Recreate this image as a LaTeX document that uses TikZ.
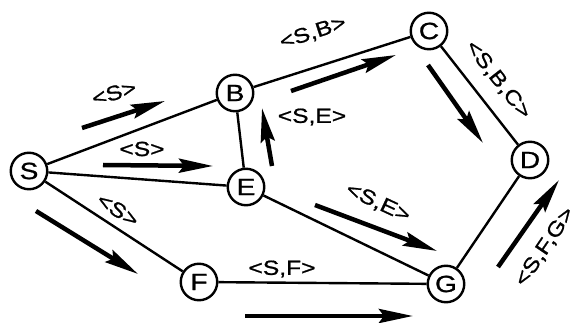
\documentclass[tikz,border=0pt]{standalone}
\usepackage{fontspec}
\setmainfont{Liberation Sans}
\newfontfamily\lfont[FakeBold=0.9]{Liberation Sans}
\usetikzlibrary{arrows.meta}
\newcommand{\widetxt}[1]{\scalebox{1.2}[1]{#1}}
\begin{document}
\begin{tikzpicture}[x=1pt,y=-1pt,
  vertex/.style={circle,draw,line width=2.4pt,minimum size=36.5pt,inner sep=0pt,font=\lfont\fontsize{23.5}{23.5}\selectfont},
  edge/.style={line width=2.4pt},
  flow/.style={line width=4.5pt,-{Stealth[length=34pt,width=14pt,inset=5pt]}},
  lbl/.style={inner sep=0pt,font=\lfont\fontsize{20.5}{20.5}\selectfont}]
\useasboundingbox (0,0) rectangle (571,323);
% vertices
\node[vertex] (S) at (29,171) {\widetxt{S}};
\node[vertex] (B) at (235,93) {\widetxt{B}};
\node[vertex] (E) at (246,187) {\widetxt{E}};
\node[vertex] (F) at (199,282) {\widetxt{F}};
\node[vertex] (C) at (429,31) {\widetxt{C}};
\node[vertex] (D) at (530,160) {\widetxt{D}};
\node[vertex] (G) at (446,284) {\widetxt{G}};
% edges
\draw[edge] (S) -- (B);
\draw[edge] (S) -- (E);
\draw[edge] (S) -- (F);
\draw[edge] (B) -- (E);
\draw[edge] (B) -- (C);
\draw[edge] (C) -- (D);
\draw[edge] (D) -- (G);
\draw[edge] (E) -- (G);
\draw[edge] (F) -- (G);
% flow arrow end points
\coordinate (a1s) at (82,128);   \coordinate (a1e) at (165,101);
\coordinate (a2s) at (103,165);  \coordinate (a2e) at (213,166);
\coordinate (a3s) at (36,211);   \coordinate (a3e) at (138,274);
\coordinate (a4s) at (272,166);  \coordinate (a4e) at (262,108);
\coordinate (a5s) at (291,91);   \coordinate (a5e) at (396,55);
\coordinate (a6s) at (428,65);   \coordinate (a6e) at (483,143);
\coordinate (a7s) at (315,205);  \coordinate (a7e) at (437,251);
\coordinate (a8s) at (498,267);  \coordinate (a8e) at (559,180);
\coordinate (a9s) at (245,316);  \coordinate (a9e) at (413,316);
\draw[flow] (a1s) -- (a1e);
\draw[flow] (a2s) -- (a2e);
\draw[flow] (a3s) -- (a3e);
\draw[flow] (a4s) -- (a4e);
\draw[flow] (a5s) -- (a5e);
\draw[flow] (a6s) -- (a6e);
\draw[flow] (a7s) -- (a7e);
\draw[flow] (a8s) -- (a8e);
\draw[flow] (a9s) -- (a9e);
% labels
\node[lbl,rotate=16] (l1) at (114,93) {\widetxt{<S>}};
\node[lbl] (l2) at (142,149) {\widetxt{<S>}};
\node[lbl,rotate=-33] (l3) at (118,210) {\widetxt{<S>}};
\node[lbl,rotate=18] (l4) at (313,33) {\widetxt{<S,B>}};
\node[lbl] (l5) at (312,117) {\widetxt{<S,E>}};
\node[lbl,rotate=-52] (l6) at (498,80) {\widetxt{<S,B,C>}};
\node[lbl,rotate=-25] (l7) at (378,203) {\widetxt{<S,E>}};
\node[lbl] (l8) at (282,269) {\widetxt{<S,F>}};
\node[lbl,rotate=56] (l9) at (545,247) {\widetxt{<S,F,G>}};
\end{tikzpicture}
\end{document}
